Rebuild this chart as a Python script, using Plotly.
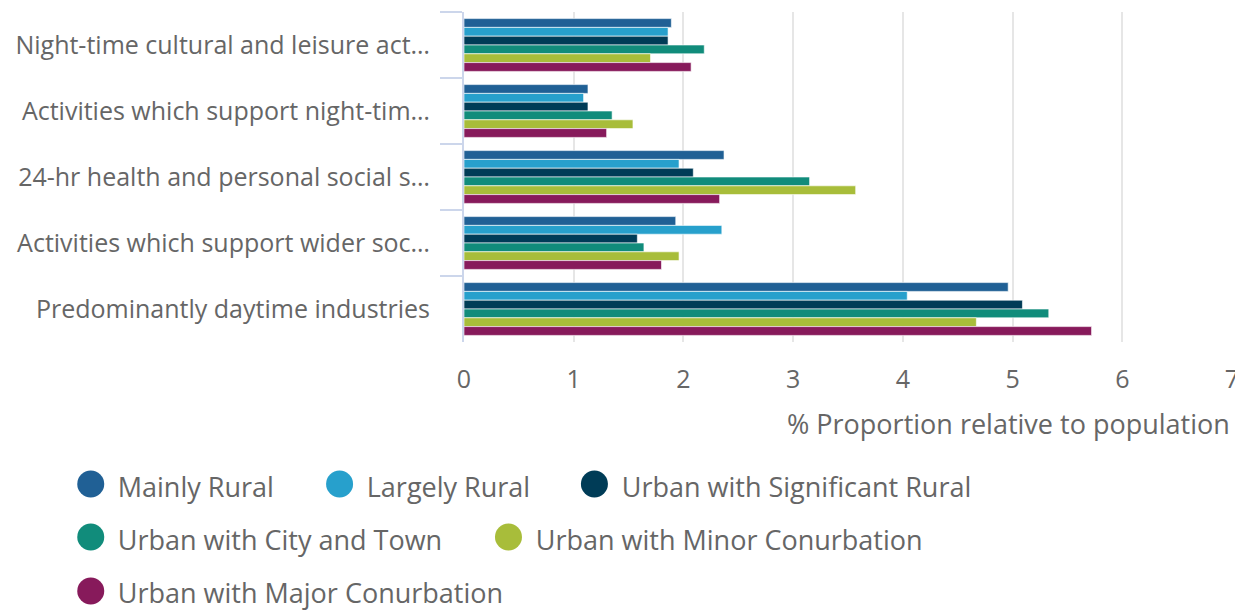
import plotly.graph_objects as go

categories = [
    "Night-time cultural and leisure act\u2026",
    "Activities which support night-tim\u2026",
    "24-hr health and personal social s\u2026",
    "Activities which support wider soc\u2026",
    "Predominantly daytime industries",
]

series_names = [
    "Mainly Rural",
    "Largely Rural",
    "Urban with Significant Rural",
    "Urban with City and Town",
    "Urban with Minor Conurbation",
    "Urban with Major Conurbation",
]

mainly_rural = [1.89, 1.13, 2.37, 1.93, 4.96]
largely_rural = [1.86, 1.09, 1.96, 2.35, 4.04]
urban_sig_rural = [1.86, 1.13, 2.09, 1.58, 5.09]
urban_city_town = [2.19, 1.35, 3.15, 1.64, 5.33]
urban_minor = [1.70, 1.54, 3.57, 1.96, 4.67]
urban_major = [2.07, 1.30, 2.33, 1.80, 5.72]

values = [mainly_rural, largely_rural, urban_sig_rural, urban_city_town, urban_minor, urban_major]
colors = ["#206095", "#27a0cc", "#003c57", "#118c7b", "#a8bd3a", "#871a5b"]

# legend layout: row assignment and item widths (px)
legend_rows = ["legend", "legend", "legend", "legend2", "legend2", "legend3"]
legend_widths = [204, 210, None, 373, None, None]

# page offset (browser body margin)
OFF = 8
# legend circle centres in page pixels (x, y)
circle_centres = [(90, 484), (339, 484), (594, 484), (90, 537), (508, 537), (90, 591)]

FONT = "Open Sans"
GREY = "#666666"
W, H = 1243 - OFF, 610 - OFF
ML = 463.5 - OFF
MT = 12 - OFF
PLOT_RIGHT = 1232 - OFF
PLOT_BOTTOM = 342 - OFF
MR = W - PLOT_RIGHT
MB = H - PLOT_BOTTOM
PW, PH = W - ML - MR, H - MT - MB


def px(page_x):
    return (page_x - OFF - ML) / PW


def py(page_y):
    return -(page_y - OFF - PLOT_BOTTOM) / PH


fig = go.Figure()
for name, vals, col, lg, lw in zip(series_names, values, colors, legend_rows, legend_widths):
    fig.add_trace(go.Bar(
        y=categories, x=vals, name=name, orientation="h",
        marker=dict(color=col, line=dict(color="rgba(255,255,255,0.6)", width=1)),
        legendgroup=name, showlegend=False,
    ))
    sc = go.Scatter(
        x=[None], y=[None], mode="markers", name=name,
        marker=dict(color="rgba(0,0,0,0)", size=1, symbol="circle"),
        legendgroup=name, showlegend=True, legend=lg,
    )
    if lw is not None:
        sc.legendwidth = lw
    fig.add_trace(sc)

legend_common = dict(
    orientation="h", xanchor="left", yanchor="middle",
    font=dict(family=FONT, size=27, color=GREY),
    bgcolor="rgba(0,0,0,0)",
)

shapes = []
for (cx, cy), col in zip(circle_centres, colors):
    shapes.append(dict(
        type="circle", xref="paper", yref="paper",
        xsizemode="pixel", ysizemode="pixel",
        xanchor=px(cx), yanchor=py(cy),
        x0=-13.5, x1=13.5, y0=-13.5, y1=13.5,
        fillcolor=col, line=dict(width=0), layer="above",
    ))

fig.update_layout(
    width=W, height=H,
    margin=dict(l=ML, r=MR, t=MT, b=MB, autoexpand=False),
    paper_bgcolor="white", plot_bgcolor="white",
    barmode="group", bargap=0.2, bargroupgap=0.0,
    font=dict(family=FONT, color=GREY),
    xaxis=dict(
        range=[0, 7], dtick=1, tick0=0,
        showgrid=True, gridcolor="#e6e6e6", gridwidth=2,
        zeroline=False, showline=False,
        tickfont=dict(family=FONT, size=25, color=GREY),
        ticks="", ticklabelstandoff=20,
    ),
    yaxis=dict(
        autorange="reversed",
        tickson="boundaries", ticks="outside", ticklen=22, tickwidth=2, tickcolor="#ccd6eb",
        showline=True, linecolor="#ccd6eb", linewidth=2,
        showgrid=False, ticklabelstandoff=27,
        tickfont=dict(family=FONT, size=25, color=GREY),
    ),
    legend=dict(x=px(77), y=py(487), **legend_common),
    legend2=dict(x=px(77), y=py(540), **legend_common),
    legend3=dict(x=px(77), y=py(593), **legend_common),
    shapes=shapes,
    annotations=[dict(
        text="% Proportion relative to population",
        xref="paper", yref="paper", x=1.0, y=py(423),
        xanchor="right", yanchor="middle", showarrow=False,
        font=dict(family=FONT, size=27, color=GREY),
    )],
)

fig.write_html("out.html")
